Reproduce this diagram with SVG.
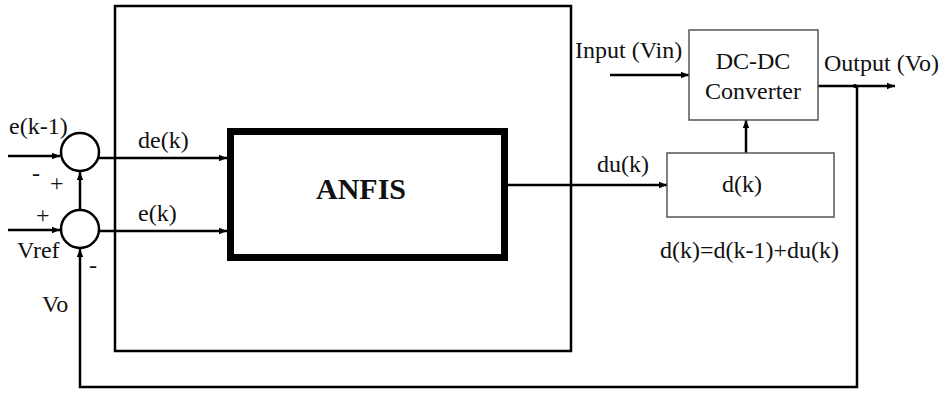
<svg xmlns="http://www.w3.org/2000/svg" width="949" height="403" viewBox="0 0 949 403">
<defs>
<style>
text{font-family:"Liberation Serif","Times New Roman",serif;font-size:24px;fill:#111}
.ln{stroke:#000;stroke-width:2.5;fill:none}
.box{stroke:#555;stroke-width:1.5;fill:#fff}
</style>
<marker id="ar" viewBox="0 0 10 10" refX="10" refY="5" markerWidth="10" markerHeight="8" markerUnits="userSpaceOnUse" orient="auto">
<path d="M0,1 L10,5 L0,9 z" fill="#000"/>
</marker>
</defs>
<rect width="949" height="403" fill="#fff"/>
<g id="frame">
<rect x="115" y="6" width="456" height="345" fill="none" stroke="#000" stroke-width="2.5"/>
</g>
<g id="connectors">
<line class="ln" x1="8" y1="156" x2="60" y2="156" marker-end="url(#ar)"/>
<line class="ln" x1="8" y1="230" x2="60" y2="230" marker-end="url(#ar)"/>
<line class="ln" x1="99" y1="158" x2="227" y2="158" marker-end="url(#ar)"/>
<line class="ln" x1="99" y1="231" x2="227" y2="231" marker-end="url(#ar)"/>
<line class="ln" x1="80" y1="210" x2="80" y2="172" marker-end="url(#ar)"/>
<polyline class="ln" points="857,87 857,387 80,387 80,249" marker-end="url(#ar)"/>
<line class="ln" x1="508" y1="185" x2="667" y2="185" marker-end="url(#ar)"/>
<line class="ln" x1="610" y1="75" x2="689" y2="75" marker-end="url(#ar)"/>
<line class="ln" x1="818" y1="86" x2="895" y2="86" marker-end="url(#ar)"/>
<line class="ln" x1="746" y1="153" x2="746" y2="120" marker-end="url(#ar)"/>
<circle cx="855" cy="86" r="2" fill="#000"/>
</g>
<g id="sum1">
<circle cx="80" cy="152" r="19" fill="#fff" stroke="#000" stroke-width="2.5"/>
</g>
<g id="sum2">
<circle cx="80" cy="229" r="19" fill="#fff" stroke="#000" stroke-width="2.5"/>
</g>
<g id="anfis">
<rect x="230.5" y="131.5" width="274" height="126" fill="#fff" stroke="#000" stroke-width="7"/>
<text x="361" y="199" text-anchor="middle" style="font-weight:bold;font-size:30px">ANFIS</text>
</g>
<g id="dcdc">
<rect class="box" x="689" y="30" width="129" height="90"/>
<text x="753" y="69" text-anchor="middle">DC-DC</text>
<text x="753" y="99" text-anchor="middle">Converter</text>
</g>
<g id="dk">
<rect class="box" x="667" y="153" width="167" height="64"/>
<text x="742" y="192" text-anchor="middle">d(k)</text>
</g>
<g id="labels">
<text x="9" y="134">e(k-1)</text>
<text x="32" y="181">-</text>
<text x="50" y="191">+</text>
<text x="36" y="223">+</text>
<text x="17" y="258">Vref</text>
<text x="89" y="273">-</text>
<text x="42" y="312">Vo</text>
<text x="138" y="148">de(k)</text>
<text x="138" y="221">e(k)</text>
<text x="597" y="172">du(k)</text>
<text x="660" y="258">d(k)=d(k-1)+du(k)</text>
<text x="575" y="58">Input (Vin)</text>
<text x="824" y="71">Output (Vo)</text>
</g>
</svg>
